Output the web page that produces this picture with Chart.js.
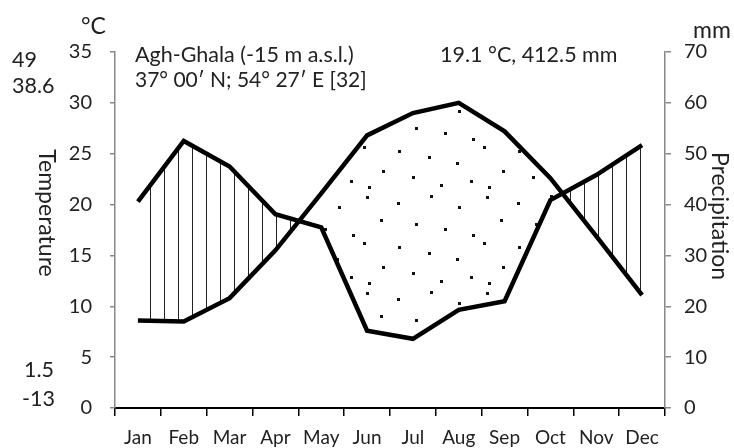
<!DOCTYPE html>
<html>
<head>
<meta charset="utf-8">
<script src="https://cdn.jsdelivr.net/npm/chart.js@4.4.1/dist/chart.umd.min.js"></script>
<style>
  body { margin: 0; background: #fff; }
  #wrap { width: 734px; height: 448px; position: relative; }
</style>
</head>
<body>
<div id="wrap"><canvas id="climate"></canvas></div>
<script>
// monthly values
const months = ['Jan', 'Feb', 'Mar', 'Apr', 'May', 'Jun', 'Jul', 'Aug', 'Sep', 'Oct', 'Nov', 'Dec'];
const temperature = [8.6, 8.5, 10.8, 15.5, 21.1, 26.8, 29.0, 30.0, 27.2, 22.6, 16.9, 11.1]; // °C
const precipitation = [40.6, 52.5, 47.5, 38.1, 35.5, 15.2, 13.6, 19.3, 21.0, 40.9, 45.8, 51.7]; // mm

const stationLines = ['Agh-Ghala (-15 m a.s.l.)', '37° 00′ N; 54° 27′ E [32]'];
const annualSummary = '19.1 °C, 412.5 mm';
const extremesTop = ['49', '38.6'];
const extremesBottom = ['1.5', '-13'];

const FONT = 'Lato, "Open Sans", sans-serif';
const TEXT = '#222';

const canvas = document.getElementById('climate');
const ctx0 = canvas.getContext('2d');

// vertical hatching = humid months
const makeHatch = () => {
    const tile = document.createElement('canvas');
    tile.width = 14;
    tile.height = 4;
    const g = tile.getContext('2d');
    g.fillStyle = '#222';
    g.fillRect(10, 0, 1, 4);
    return ctx0.createPattern(tile, 'repeat');
};

// loosely scattered dots = arid months
const makeDots = () => {
    const tile = document.createElement('canvas');
    tile.width = 120;
    tile.height = 96;
    const g = tile.getContext('2d');
    g.fillStyle = '#111';
    [[6, 4], [37, 10], [70, 3], [98, 14], [20, 27], [55, 31], [84, 36], [112, 42],
     [3, 50], [38, 54], [68, 60], [96, 66], [22, 74], [52, 80], [80, 88], [110, 84],
     [8, 90]].forEach(([x, y]) => {
        g.fillRect(x, y, 3, 3);
    });
    return ctx0.createPattern(tile, 'repeat');
};

// extra labels: station name, annual means, extremes, axis titles and units
const annotations = {
    id: 'annotations',
    afterDraw(chart) {
        const { ctx } = chart;
        ctx.save();
        ctx.fillStyle = TEXT;
        ctx.textBaseline = 'alphabetic';

        ctx.font = `21.5px ${FONT}`;
        ctx.textAlign = 'left';
        ctx.fillText(stationLines[0], 135, 62);
        ctx.fillText(annualSummary, 440, 62);
        ctx.fillText(extremesTop[0], 12, 67);
        ctx.fillText(extremesTop[1], 12, 93);
        ctx.textAlign = 'right';
        ctx.fillText(extremesBottom[0], 54, 377);
        ctx.fillText(extremesBottom[1], 55, 406);

        ctx.font = `21px ${FONT}`;
        ctx.textAlign = 'left';
        ctx.fillText(stationLines[1], 135, 87);

        ctx.font = `23px ${FONT}`;
        ctx.fillText('°C', 81, 34);
        ctx.fillText('mm', 693, 38);

        // both axis titles read top to bottom
        ctx.textAlign = 'center';
        ctx.textBaseline = 'middle';
        ctx.translate(46, 213);
        ctx.rotate(Math.PI / 2);
        ctx.fillText('Temperature', 0, 0);
        ctx.setTransform(1, 0, 0, 1, 0, 0);
        ctx.translate(719, 216);
        ctx.rotate(Math.PI / 2);
        ctx.fillText('Precipitation', 0, 0);
        ctx.restore();
    }
};

new Chart(canvas, {
    type: 'line',
    data: {
        labels: months,
        datasets: [
            {
                label: 'Temperature',
                data: temperature,
                yAxisID: 'y',
                borderColor: '#000',
                borderWidth: 4.5,
                pointRadius: 0,
                tension: 0,
                fill: false
            },
            {
                label: 'Precipitation',
                data: precipitation,
                yAxisID: 'y1',
                borderColor: '#000',
                borderWidth: 4.5,
                pointRadius: 0,
                tension: 0,
                fill: { target: 0, above: makeHatch(), below: makeDots() }
            }
        ]
    },
    options: {
        responsive: true,
        maintainAspectRatio: false,
        animation: false,
        layout: { padding: { top: 52, left: 0, right: 0, bottom: 0 } },
        plugins: {
            legend: { display: false },
            tooltip: { enabled: false }
        },
        scales: {
            x: {
                offset: true,
                grid: { offset: true, drawOnChartArea: false, tickLength: 8, color: '#000', lineWidth: 1.5 },
                border: { color: '#000', width: 2 },
                ticks: { color: TEXT, font: { family: FONT, size: 19 }, padding: 10, maxRotation: 0 },
                afterFit: (s) => { s.height = 40; }
            },
            y: {
                position: 'left',
                min: 0,
                max: 35,
                ticks: { stepSize: 5, color: TEXT, font: { family: FONT, size: 20 }, padding: 18 },
                grid: { drawOnChartArea: false, tickLength: 5, color: '#888', lineWidth: 1.5 },
                border: { color: '#888', width: 1.5 },
                afterFit: (s) => { s.width = 115; }
            },
            y1: {
                position: 'right',
                min: 0,
                max: 70,
                ticks: { stepSize: 10, color: TEXT, font: { family: FONT, size: 20 }, padding: 13 },
                grid: { drawOnChartArea: false, tickLength: 6, color: '#888', lineWidth: 1.5 },
                border: { color: '#888', width: 1.5 },
                afterFit: (s) => { s.width = 69; }
            }
        }
    },
    plugins: [annotations]
});
</script>
</body>
</html>
